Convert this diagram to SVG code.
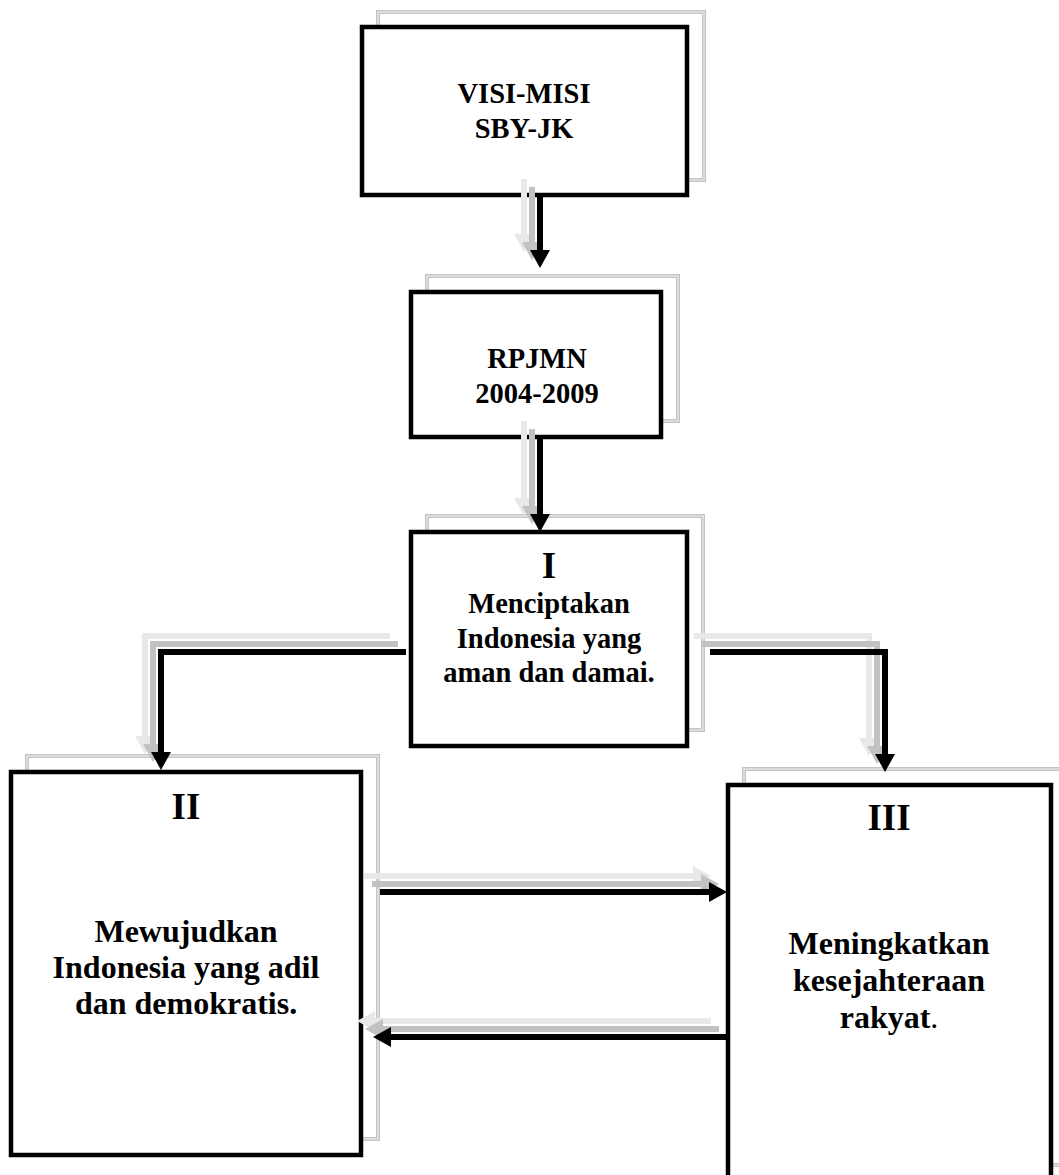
<svg xmlns="http://www.w3.org/2000/svg" width="1059" height="1175" viewBox="0 0 1059 1175">
<style>
.box{fill:#fff;stroke:#000;stroke-width:4.5}
.sh{fill:none;stroke:#c4c4c4;stroke-width:4}
.sh2{fill:none;stroke:#ececec;stroke-width:1.2}
.t{font-family:"Liberation Serif","Times New Roman",serif;font-weight:bold;font-size:28.5px;text-anchor:middle;fill:#000}
.m{font-size:32px}
.big{font-size:37px}
.cb{fill:none;stroke:#000;stroke-width:6;stroke-linejoin:miter}
.cg{fill:none;stroke:#c2c2c2;stroke-width:6;stroke-linejoin:miter}
.cl{fill:none;stroke:#e8e8e8;stroke-width:6;stroke-linejoin:miter}
</style>
<defs>
<marker id="hb" viewBox="0 0 18 20" refX="0" refY="10" markerWidth="18" markerHeight="20" markerUnits="userSpaceOnUse" orient="auto"><path d="M0,0 L18,10 L0,20 z" fill="#000"/></marker>
<marker id="hg" viewBox="0 0 18 20" refX="0" refY="10" markerWidth="18" markerHeight="20" markerUnits="userSpaceOnUse" orient="auto"><path d="M0,0 L18,10 L0,20 z" fill="#c2c2c2"/></marker>
<marker id="hl" viewBox="0 0 18 20" refX="0" refY="10" markerWidth="18" markerHeight="20" markerUnits="userSpaceOnUse" orient="auto"><path d="M0,0 L18,10 L0,20 z" fill="#e8e8e8"/></marker>
</defs>
<rect width="1059" height="1175" fill="#fff"/>

<g id="node-visi">
<rect class="sh" x="378" y="12" width="326" height="168"/><rect class="sh2" x="378" y="12" width="326" height="168"/>
<rect class="box" x="362" y="27" width="325" height="168"/>
<text class="t" x="524" y="103">VISI-MISI</text>
<text class="t" x="524" y="138">SBY-JK</text>
</g>

<g id="node-rpjmn">
<rect class="sh" x="427" y="276" width="251" height="145"/><rect class="sh2" x="427" y="276" width="251" height="145"/>
<rect class="box" x="411" y="292" width="250" height="145"/>
<text class="t" x="537" y="368">RPJMN</text>
<text class="t" x="537" y="403">2004-2009</text>
</g>

<g id="node-i">
<rect class="sh" x="427" y="516" width="276" height="214"/><rect class="sh2" x="427" y="516" width="276" height="214"/>
<rect class="box" x="411" y="532" width="276" height="214"/>
<text class="t big" x="549" y="578">I</text>
<text class="t" x="549" y="613">Menciptakan</text>
<text class="t" x="549" y="648">Indonesia yang</text>
<text class="t" x="549" y="682">aman dan damai.</text>
</g>

<g id="node-ii">
<rect class="sh" x="27" y="756" width="351" height="383"/><rect class="sh2" x="27" y="756" width="351" height="383"/>
<rect class="box" x="11" y="772" width="350" height="383"/>
<text class="t big" x="186" y="819">II</text>
<text class="t m" x="186" y="942">Mewujudkan</text>
<text class="t m" x="186" y="978">Indonesia yang adil</text>
<text class="t m" x="186" y="1014">dan demokratis.</text>
</g>

<g id="node-iii">
<rect class="sh" x="744" y="769" width="324" height="396"/><rect class="sh2" x="744" y="769" width="324" height="396"/>
<rect class="box" x="728" y="785" width="323" height="397"/>
<text class="t big" x="889" y="830">III</text>
<text class="t m" x="889" y="954">Meningkatkan</text>
<text class="t m" x="889" y="991">kesejahteraan</text>
<text class="t m" x="889" y="1028">rakyat<tspan font-weight="normal">.</tspan></text>
</g>

<g id="connectors">
<path class="cl" d="M524,179 V234" marker-end="url(#hl)"/>
<path class="cg" d="M532,187 V242" marker-end="url(#hg)"/>
<path class="cb" d="M540,195 V250" marker-end="url(#hb)"/>

<path class="cl" d="M524,421 V498" marker-end="url(#hl)"/>
<path class="cg" d="M532,429 V506" marker-end="url(#hg)"/>
<path class="cb" d="M540,437 V514" marker-end="url(#hb)"/>

<path class="cl" d="M390,636 H145 V736" marker-end="url(#hl)"/>
<path class="cg" d="M398,644 H153 V744" marker-end="url(#hg)"/>
<path class="cb" d="M406,652 H161 V752" marker-end="url(#hb)"/>

<path class="cl" d="M694,636 H869 V738" marker-end="url(#hl)"/>
<path class="cg" d="M702,644 H877 V746" marker-end="url(#hg)"/>
<path class="cb" d="M710,652 H885 V754" marker-end="url(#hb)"/>

<path class="cl" d="M364,876 H693" marker-end="url(#hl)"/>
<path class="cg" d="M372,884 H701" marker-end="url(#hg)"/>
<path class="cb" d="M380,892 H709" marker-end="url(#hb)"/>

<path class="cl" d="M711,1021 H375" marker-end="url(#hl)"/>
<path class="cg" d="M719,1029 H383" marker-end="url(#hg)"/>
<path class="cb" d="M727,1037 H391" marker-end="url(#hb)"/>
</g>
</svg>
